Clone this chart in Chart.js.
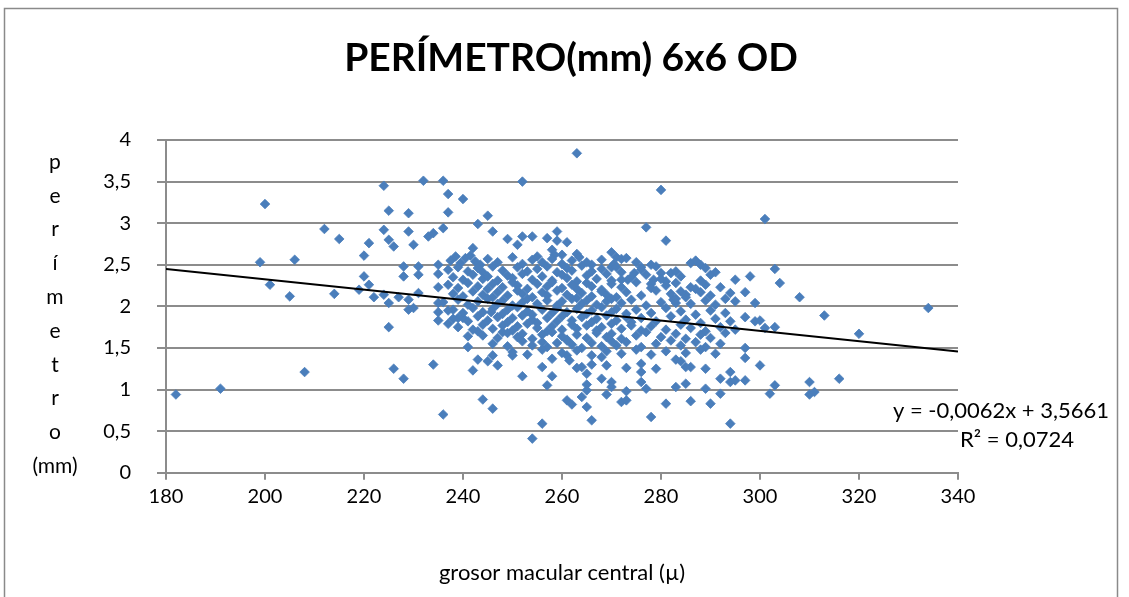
<!DOCTYPE html>
<html>
<head>
<meta charset="utf-8">
<script src="https://cdn.jsdelivr.net/npm/chart.js@4.4.1/dist/chart.umd.min.js"></script>
<style>
  html, body { margin: 0; padding: 0; background: #ffffff; }
  #wrap { position: relative; width: 1129px; height: 597px; }
</style>
</head>
<body>
<div id="wrap"><canvas id="grafico" width="1129" height="597"></canvas></div>
<script>
// Grosor macular central (µ) y perímetro (mm), agrupados por zona del diagrama
const izquierdaX = [182,191,208,200,212,215,199,206,201,205,214,224,232,236,252,237,240,225,229,237,245,243,224,229,236,246,233,234,221,225,226,230,220,220,221,219,222,224,225,227,228,228,231,231,231,229,242,249,251,252,254,257,235,235,235,235];
const izquierdaY = [0.94,1.01,1.21,3.23,2.93,2.81,2.53,2.56,2.26,2.12,2.15,3.45,3.51,3.51,3.50,3.35,3.29,3.15,3.12,3.13,3.09,2.99,2.92,2.90,2.94,2.90,2.84,2.88,2.76,2.80,2.72,2.74,2.61,2.36,2.26,2.20,2.11,2.14,2.04,2.11,2.48,2.36,2.48,2.38,2.16,2.08,2.70,2.81,2.74,2.84,2.84,2.82,2.50,2.39,2.23,2.04];

const superiorX = [263,280,277,281,259,259,261,258,258.5,260,263,270,271,272,266,270,276,274.6,273.3,272,286,287,288,295,286,284,285,293,280,282,278.5,281,278,282.5,283];
const superiorY = [3.84,3.40,2.95,2.79,2.90,2.79,2.77,2.68,2.62,2.62,2.63,2.65,2.59,2.57,2.50,2.47,2.47,2.40,2.32,2.32,2.52,2.55,2.50,2.32,2.23,2.18,2.14,2.09,2.40,2.40,2.32,2.30,2.27,2.08,2.04];

const derechaX = [301,303,298,304,297,299,308,334,297,299,300,301,303,313,320,297,297,300,297,303,302,310,310,311,316];
const derechaY = [3.05,2.45,2.36,2.28,2.17,2.04,2.11,1.98,1.87,1.82,1.83,1.74,1.75,1.89,1.67,1.50,1.38,1.29,1.11,1.05,0.95,1.09,0.94,0.97,1.13];

const inferiorX = [225,226,228,234,236,241,243,241,242,243,245,246,247,244,246,250,252,256,257,256,254,229,230,235,237,238,239,240,235,245.7,248,250,
  258,258,261,261.5,263,264,265,266,268,269,268,265,265,264,265,261,262,266,270,270,269,273,273,272,273,276,276,276,277,279,278,281,283,283,285,286,286,285,284,289,289,290,292,292,294,294,295,294];
const inferiorY = [1.75,1.25,1.13,1.30,0.70,1.64,1.70,1.51,1.23,1.36,1.34,1.41,1.29,0.88,0.77,1.41,1.16,1.27,1.05,0.59,0.41,1.96,1.98,1.83,1.79,1.96,1.86,1.86,1.93,1.93,1.69,1.45,
  1.37,1.16,1.41,1.35,1.26,1.27,1.19,1.30,1.39,1.29,1.13,1.06,0.99,0.91,0.79,0.87,0.82,0.63,1.09,1.03,0.94,1.26,0.98,0.85,0.87,1.31,1.21,1.09,1.01,1.25,0.67,0.83,1.03,1.36,1.07,0.86,1.27,1.27,1.34,1.25,1.01,0.83,1.13,0.95,1.21,1.09,1.11,0.59];

const nucleoX = [
  237.5,238.5,239.5,240.5,241.5,242.5,243.5,245,247,250,252,254,255,256,258,260,262,263.5,265,268,270.5,273,275,278,
  237,239,241,243,244,246,248,251,253,255,257,259,261,262,264,266,268,271,272,276,279,283,289,291,
  238,240,242,244,245,247,249,250,252,254,256,258,260,261,263,265,267,269,270,274,277,280,284,288,290,
  237,239,241,243,245,246,248,250,251,253,255,257,258,260,262,263,265,266,268,270,272,275,278,281,283,287,289,292,
  238,240,242,244,246,247,249,251,252,254,256,257,259,261,263,264,266,268,269,271,273,276,279,282,285,288,290,294,
  236,239,241,243,245,247,248,250,252,253,255,257,259,260,262,264,265,267,269,270,272,274,277,280,283,286,289,291,295,
  237,240,242,244,246,248,249,251,253,254,256,258,259,261,263,265,266,268,270,271,273,275,278,281,284,287,290,293,
  238,241,243,245,247,249,250,252,254,255,257,259,260,262,264,266,267,269,271,273,274,276,279,282,285,288,291,294,
  239,242,244,246,248,250,251,253,255,257,258,260,262,263,265,267,268,270,272,274,276,278,281,284,286,289,292,295,
  244,247,249,251,252,254,256,258,260,261,263,265,267,269,270,272,275,277,280,283,285,288,290,293,
  246,249,252,254,256,257,259,261,262,264,266,268,270,271,273,276,279,282,284,287,289,292,
  253,256,260,263,266,269,272,275,278,281,285,288,291
];
const nucleoY = [
  2.55,2.60,2.52,2.58,2.61,2.54,2.50,2.57,2.53,2.59,2.51,2.56,2.60,2.53,2.57,2.51,2.55,2.59,2.53,2.56,2.51,2.58,2.53,2.50,
  2.44,2.47,2.42,2.46,2.41,2.48,2.43,2.47,2.42,2.45,2.48,2.41,2.46,2.43,2.49,2.42,2.45,2.47,2.41,2.44,2.48,2.42,2.46,2.41,
  2.35,2.32,2.38,2.33,2.36,2.31,2.37,2.34,2.39,2.32,2.36,2.31,2.38,2.34,2.30,2.37,2.33,2.39,2.31,2.35,2.38,2.33,2.36,2.31,2.38,
  2.26,2.22,2.28,2.24,2.21,2.27,2.23,2.29,2.25,2.21,2.27,2.24,2.29,2.22,2.26,2.21,2.28,2.24,2.20,2.27,2.23,2.29,2.22,2.25,2.28,2.21,2.26,2.23,
  2.15,2.12,2.18,2.14,2.11,2.17,2.13,2.19,2.15,2.11,2.17,2.13,2.19,2.14,2.10,2.16,2.12,2.18,2.14,2.11,2.17,2.13,2.19,2.15,2.11,2.17,2.13,2.16,
  2.05,2.08,2.02,2.06,2.09,2.03,2.07,2.01,2.05,2.09,2.03,2.07,2.01,2.06,2.09,2.03,2.07,2.02,2.06,2.09,2.04,2.08,2.01,2.05,2.09,2.03,2.07,2.02,2.06,
  1.95,1.92,1.98,1.93,1.97,1.91,1.96,1.99,1.94,1.90,1.96,1.92,1.98,1.93,1.97,1.91,1.95,1.99,1.93,1.97,1.91,1.96,1.92,1.98,1.94,1.90,1.95,1.92,
  1.85,1.82,1.88,1.83,1.87,1.81,1.86,1.89,1.84,1.80,1.86,1.82,1.88,1.83,1.87,1.81,1.85,1.89,1.83,1.87,1.81,1.86,1.82,1.88,1.84,1.80,1.85,1.82,
  1.75,1.72,1.78,1.73,1.77,1.71,1.76,1.79,1.74,1.70,1.76,1.72,1.78,1.73,1.77,1.71,1.75,1.79,1.73,1.77,1.71,1.76,1.72,1.78,1.74,1.70,1.75,1.72,
  1.65,1.62,1.68,1.63,1.67,1.61,1.66,1.69,1.64,1.60,1.66,1.62,1.68,1.63,1.67,1.61,1.65,1.69,1.63,1.67,1.61,1.66,1.62,1.68,
  1.55,1.52,1.58,1.53,1.57,1.51,1.56,1.59,1.54,1.50,1.56,1.52,1.58,1.53,1.57,1.51,1.55,1.59,1.53,1.57,1.51,1.55,
  1.42,1.48,1.44,1.47,1.41,1.46,1.43,1.48,1.42,1.46,1.44,1.48,1.43
];

// Línea de tendencia lineal y sus rótulos
const pendiente = -0.0062;
const intercepto = 3.5661;
const textoEcuacion = 'y = -0,0062x + 3,5661';
const textoR2 = 'R² = 0,0724';

// Textos y marcas de los ejes
const titulo = 'PERÍMETRO(mm) 6x6 OD';
const tituloX = 'grosor macular central (µ)';
const letrasEjeY = ['p', 'e', 'r', 'í', 'm', 'e', 't', 'r', 'o', '(mm)'];
const etiquetasY = ['0', '0,5', '1', '1,5', '2', '2,5', '3', '3,5', '4'];
const rangoX = [180, 340];

function puntos(xs, ys) {
  const n = Math.min(xs.length, ys.length);
  const out = [];
  for (let i = 0; i < n; i++) out.push({ x: xs[i], y: ys[i] });
  return out;
}

const datosDispersion = [].concat(
  puntos(izquierdaX, izquierdaY),
  puntos(superiorX, superiorY),
  puntos(derechaX, derechaY),
  puntos(inferiorX, inferiorY),
  puntos(nucleoX, nucleoY)
);

const datosTendencia = rangoX.map(x => ({ x: x, y: intercepto + pendiente * x }));

const FUENTE = 'Lato, "Open Sans", sans-serif';

const decoracion = {
  id: 'decoracion',
  beforeDraw(chart) {
    const ctx = chart.ctx;
    ctx.save();
    ctx.strokeStyle = '#8a8a8a';
    ctx.lineWidth = 1.5;
    ctx.strokeRect(4.5, 8.5, 1113, 600);
    ctx.restore();
  },
  afterDraw(chart) {
    const ctx = chart.ctx;
    ctx.save();
    ctx.fillStyle = '#000';
    ctx.textAlign = 'center';
    ctx.textBaseline = 'middle';
    ctx.font = 'bold 39px ' + FUENTE;
    ctx.fillText(titulo, 571, 58);

    ctx.font = '21px ' + FUENTE;
    letrasEjeY.forEach((t, i) => ctx.fillText(t, 55, 162 + i * 33.8));

    ctx.font = '22px ' + FUENTE;
    ctx.fillText(textoEcuacion, 1001, 411);
    ctx.fillText(textoR2, 1017, 440);
    ctx.restore();
  }
};

new Chart(document.getElementById('grafico'), {
  data: {
    datasets: [
      {
        type: 'line',
        data: datosTendencia,
        borderColor: '#000000',
        borderWidth: 2,
        pointRadius: 0,
        fill: false,
        order: 0
      },
      {
        type: 'scatter',
        data: datosDispersion,
        pointStyle: 'rectRot',
        pointRadius: 4.8,
        pointBorderWidth: 0.8,
        backgroundColor: '#4a7ebb',
        borderColor: '#4a7ebb',
        order: 1
      }
    ]
  },
  options: {
    responsive: false,
    animation: false,
    devicePixelRatio: 1,
    layout: { padding: { top: 140, right: 171, bottom: 0, left: 0 } },
    plugins: {
      legend: { display: false },
      tooltip: { enabled: false },
      title: { display: false }
    },
    scales: {
      x: {
        type: 'linear',
        min: rangoX[0],
        max: rangoX[1],
        ticks: {
          stepSize: 20,
          maxRotation: 0,
          color: '#000',
          padding: 5,
          font: { family: FUENTE, size: 20 }
        },
        grid: {
          drawOnChartArea: false,
          drawTicks: true,
          tickLength: 7,
          color: '#8c8c8c',
          lineWidth: 2
        },
        border: { color: '#8c8c8c', width: 2 },
        title: {
          display: true,
          text: tituloX,
          color: '#000',
          font: { family: FUENTE, size: 22 },
          padding: { top: 0, bottom: 11 }
        },
        afterFit(scale) { scale.height = 124.3; }
      },
      y: {
        type: 'linear',
        min: 0,
        max: 4,
        ticks: {
          stepSize: 0.5,
          color: '#000',
          padding: 26,
          font: { family: FUENTE, size: 20 },
          callback: (v, i) => etiquetasY[i]
        },
        grid: {
          color: '#8c8c8c',
          lineWidth: 2,
          tickLength: 9
        },
        border: { color: '#8c8c8c', width: 2 },
        afterFit(scale) { scale.width = 166; }
      }
    }
  },
  plugins: [decoracion]
});
</script>
</body>
</html>
